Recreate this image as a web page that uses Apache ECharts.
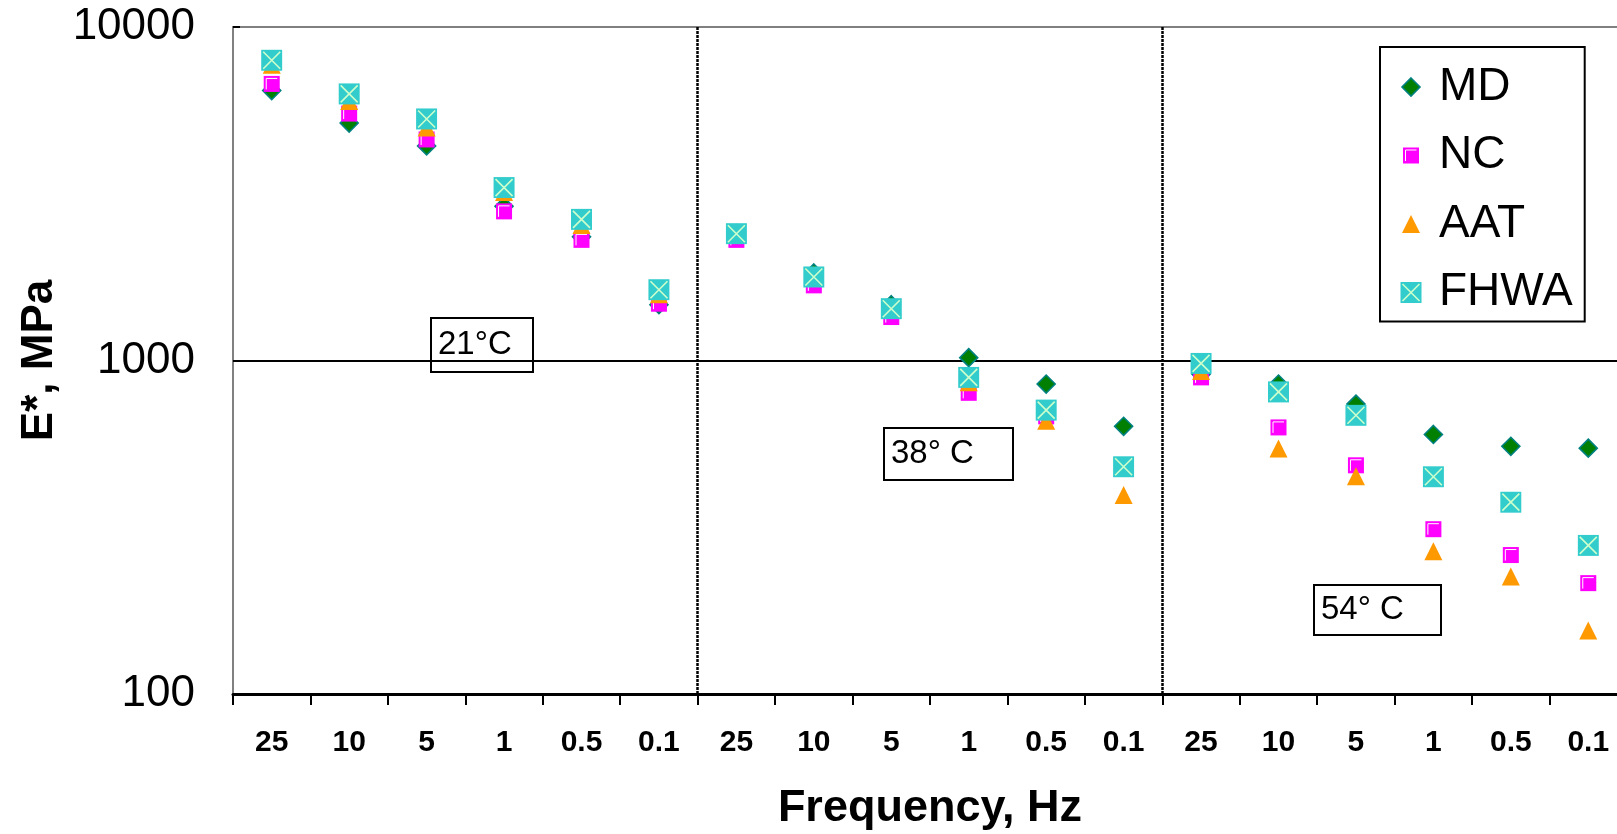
<!DOCTYPE html>
<html>
<head>
<meta charset="utf-8">
<script src="https://cdn.jsdelivr.net/npm/echarts@6/dist/echarts.min.js"></script>
<style>
  html, body { margin: 0; padding: 0; background: #fff; }
  #chart { width: 1617px; height: 834px; }
</style>
</head>
<body>
<div id="chart"></div>
<script>
// ---- Data ----
const categories = ['25','10','5','1','0.5','0.1','25','10','5','1','0.5','0.1','25','10','5','1','0.5','0.1'];
const seriesNames = ['MD', 'NC', 'AAT', 'FHWA'];
const mdValues   = [6450, 5150, 4400, 2900, 2350, 1470, 2400, 1830, 1470, 1020, 850, 635, 910, 850, 740, 600, 553, 546];
const ncValues   = [6750, 5500, 4600, 2800, 2300, 1480, 2300, 1680, 1350, 800, 680, 475, 890, 630, 485, 312, 261, 215];
const aatValues  = [7700, 6000, 5000, 3200, 2550, 1580, 2400, 1800, 1420, 860, 660, 395, 930, 545, 450, 268, 225, 155];
const fhwaValues = [7950, 6300, 5300, 3300, 2650, 1630, 2400, 1780, 1430, 890, 710, 480, 980, 805, 685, 448, 376, 279];
const tempLabels = ['21°C', '38° C', '54° C'];
const yTickValues = [100, 1000, 10000];

// ---- Marker images ----
function img(svg) {
  return 'image://data:image/svg+xml;charset=utf-8,' + encodeURIComponent(svg);
}
const head = '<svg xmlns="http://www.w3.org/2000/svg" width="22" height="22" viewBox="0 0 22 22">';
const symMD = img(head + '<polygon points="11,2 20,11 11,20 2,11" fill="#007F00" stroke="#008080" stroke-width="1.6"/></svg>');
const symNC = img(head + '<rect x="3" y="3" width="16" height="16" fill="#FF00FF"/><polyline points="5.5,16.5 5.5,5.5 16.5,5.5" fill="none" stroke="#ffffff" stroke-width="1"/></svg>');
const symAAT = img(head + '<polygon points="11,2 20,20 2,20" fill="#FF9900"/></svg>');
const symFHWA = img(head + '<rect x="0.5" y="0.5" width="21" height="21" fill="#33CCCC"/><path d="M2.5,2.5 L19.5,19.5 M19.5,2.5 L2.5,19.5" stroke="#CCFFCC" stroke-width="1.6"/></svg>');
const symbols = [symMD, symNC, symAAT, symFHWA];
const values = [mdValues, ncValues, aatValues, fhwaValues];

const FONT = '"Liberation Sans", Arial, Helvetica, sans-serif';

const chart = echarts.init(document.getElementById('chart'), null, { renderer: 'canvas' });

function annotation(x, y, w, h, text) {
  return {
    type: 'group',
    left: x, top: y,
    children: [
      { type: 'rect', shape: { x: 0, y: 0, width: w, height: h },
        style: { fill: '#fff', stroke: '#000', lineWidth: 2 } },
      { type: 'text', x: 7, y: h / 2,
        style: { text: text, font: '33px ' + FONT, fill: '#000', verticalAlign: 'middle', textVerticalAlign: 'middle' } }
    ],
    z: 50
  };
}

const option = {
  backgroundColor: '#fff',
  animation: false,
  grid: {
    left: 233, top: 27, width: 1394, height: 667,
    outerBoundsMode: 'none',
    containLabel: false,
    show: true, borderColor: '#808080', borderWidth: 2, backgroundColor: 'transparent'
  },
  legend: {
    orient: 'vertical',
    left: 1380, top: 47,
    padding: [17, 12, 6, 20],
    itemWidth: 22, itemHeight: 22,
    itemGap: 22.5,
    borderColor: '#000', borderWidth: 2, backgroundColor: '#fff',
    selectedMode: false,
    textStyle: { fontFamily: FONT, fontSize: 46, color: '#000', lineHeight: 46, padding: [0, 0, 0, 12] },
    data: seriesNames.map((n, i) => ({ name: n, icon: symbols[i] }))
  },
  xAxis: {
    type: 'category',
    data: categories,
    boundaryGap: true,
    name: 'Frequency, Hz',
    nameLocation: 'middle',
    nameGap: 92,
    nameTextStyle: { fontFamily: FONT, fontSize: 45, fontWeight: 'bold', color: '#000' },
    axisLine: { show: true, lineStyle: { color: '#000', width: 3 } },
    axisTick: { show: true, interval: 0, length: 11, lineStyle: { color: '#000', width: 2 } },
    axisLabel: { interval: 0, margin: 34, fontFamily: FONT, fontSize: 30, fontWeight: 'bold', color: '#000' },
    splitLine: {
      show: true,
      interval: function (index) { return index === 6 || index === 12; },
      lineStyle: { color: '#000', width: 2.5, type: [3, 1] }
    }
  },
  yAxis: {
    type: 'log',
    logBase: 10,
    min: yTickValues[0],
    max: yTickValues[yTickValues.length - 1],
    name: 'E*, MPa',
    nameLocation: 'middle',
    nameGap: 167,
    nameRotate: 90,
    nameTextStyle: { fontFamily: FONT, fontSize: 44, fontWeight: 'bold', color: '#000' },
    axisLine: { show: true, lineStyle: { color: '#808080', width: 2 } },
    axisTick: { show: true, inside: true, length: 7, lineStyle: { color: '#000', width: 2 } },
    axisLabel: {
      margin: 38, fontFamily: FONT, fontSize: 44, color: '#000',
      formatter: function (v) { return String(Math.round(v)); }
    },
    splitLine: {
      show: true,
      lineStyle: { color: ['rgba(0,0,0,0)', '#000', 'rgba(0,0,0,0)'], width: 2 }
    },
    minorTick: { show: false },
    minorSplitLine: { show: false }
  },
  graphic: [
    annotation(430, 317, 102, 54, tempLabels[0]),
    annotation(883, 427, 129, 52, tempLabels[1]),
    annotation(1313, 584, 127, 50, tempLabels[2])
  ],
  series: seriesNames.map((n, i) => ({
    name: n,
    type: 'scatter',
    symbol: symbols[i],
    symbolSize: 22,
    data: values[i],
    z: 10 + i,
    itemStyle: { opacity: 1 },
    emphasis: { disabled: true }
  }))
};

chart.setOption(option);
</script>
</body>
</html>
